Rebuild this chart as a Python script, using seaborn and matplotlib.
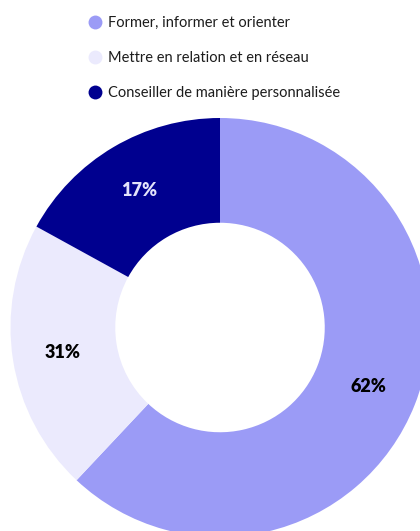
import matplotlib
matplotlib.use("Agg")
import matplotlib.pyplot as plt
from matplotlib.lines import Line2D
import seaborn as sns

categories = ["Former, informer et orienter",
              "Mettre en relation et en réseau",
              "Conseiller de manière personnalisée"]
# slice sizes as drawn (angles)
values = [62, 21, 17]
pct_labels = ["62%", "31%", "17%"]
colors = ["#9b9bf6", "#ebeafd", "#00008f"]
label_colors = ["#000000", "#000000", "#e3e3fb"]

sns.set_theme(style="white")
plt.rcParams["font.family"] = ["Lato", "DejaVu Sans"]

fig = plt.figure(figsize=(4.2, 5.31), dpi=100)
ax = fig.add_axes([0, 0, 1, 1])

wedges, texts = ax.pie(values, colors=colors, startangle=90, counterclock=False,
                       labels=pct_labels, labeldistance=0.76,
                       wedgeprops=dict(width=0.5, linewidth=0),
                       center=(0, 0), radius=1)
for t, c in zip(texts, label_colors):
    t.set_ha("center")
    t.set_va("center")
    t.set_color(c)
    t.set_fontsize(13)
    t.set_fontweight("heavy")

# pixel-matched frame: 1 unit = 209.5 px, centre at (220, 327.5)
ax.set_xlim(-220 / 209.5, 200 / 209.5)
ax.set_ylim(-203.5 / 209.5, 327.5 / 209.5)
ax.set_aspect("auto")
ax.axis("off")

handles = [Line2D([], [], marker="o", linestyle="", markersize=10,
                  markerfacecolor=c, markeredgewidth=0) for c in colors]
fig.legend(handles, categories, loc="upper left", bbox_to_anchor=(80 / 420, 1 - 9 / 531),
           frameon=False, fontsize=10.5, labelspacing=1.43, handletextpad=0.4,
           handlelength=1.0, borderpad=0, labelcolor="#1c1c1c")

fig.savefig("out.png", dpi=100)
